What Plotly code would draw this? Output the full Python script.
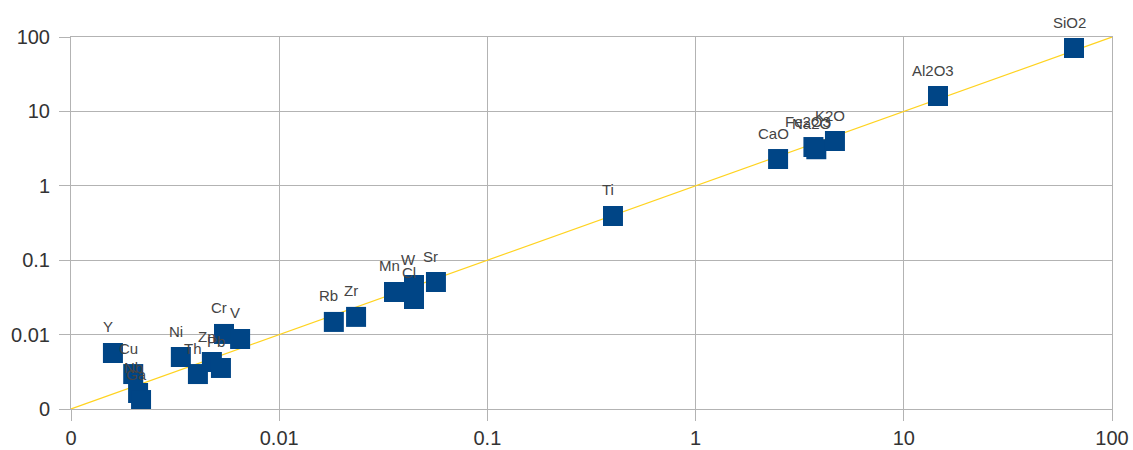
import math
import plotly.graph_objects as go

# Element / oxide concentrations: measured (x) vs reference (y)
elements = ["Y", "Cu", "Nb", "Ga", "Ni", "Th", "Zn", "Pb", "Cr", "V",
            "Rb", "Zr", "Mn", "W", "Cl", "Sr", "Ti", "CaO", "Fe2O3", "Na2O",
            "K2O", "Al2O3", "SiO2"]
x_vals = [0.00159, 0.00199, 0.00210, 0.00217, 0.00337, 0.00407, 0.00475, 0.00525, 0.00543, 0.00649,
          0.0183, 0.0234, 0.0356, 0.0444, 0.0444, 0.0566, 0.401, 2.49, 3.68, 3.80,
          4.67, 14.6, 65.7]
y_vals = [0.00566, 0.00295, 0.00164, 0.00132, 0.0050, 0.00295, 0.00428, 0.00356, 0.0102, 0.00873,
          0.0148, 0.0173, 0.0374, 0.0464, 0.0301, 0.0509, 0.393, 2.29, 3.32, 3.10,
          4.00, 16.1, 71.1]

# 1:1 reference line
line_x = [0.001, 100]
line_y = [0.001, 100]

tick_vals = [0.001, 0.01, 0.1, 1, 10, 100]
tick_text = ["0", "0.01", "0.1", "1", "10", "100"]

FONT = "Liberation Sans, Arial, sans-serif"

fig = go.Figure()
fig.add_trace(go.Scatter(x=line_x, y=line_y, mode="lines",
                         line=dict(color="#ffd320", width=1.2),
                         hoverinfo="skip", showlegend=False))
fig.add_trace(go.Scatter(x=x_vals, y=y_vals, mode="markers",
                         marker=dict(symbol="square", size=20, color="#004586",
                                     line=dict(width=0)),
                         text=elements, showlegend=False))

# Data labels above each marker (annotation coords on log axes are log10 values)
for name, xv, yv in zip(elements, x_vals, y_vals):
    fig.add_annotation(x=math.log10(xv), y=math.log10(yv), xref="x", yref="y", text=name,
                       showarrow=False, xshift=-5, yshift=26,
                       font=dict(family=FONT, size=15, color="#444444"))

axis_common = dict(type="log", range=[-3, 2], tickvals=tick_vals, ticktext=tick_text,
                   showgrid=True, gridcolor="#b3b3b3", gridwidth=1,
                   showline=True, linecolor="#b3b3b3", linewidth=1, mirror=True,
                   ticks="outside", ticklen=11, tickcolor="#b3b3b3",
                   tickfont=dict(family=FONT, size=20, color="#333333"),
                   zeroline=False, automargin=False)

fig.update_layout(
    width=1133, height=450,
    margin=dict(l=71, r=21, t=37, b=41),
    plot_bgcolor="white", paper_bgcolor="white",
    xaxis=axis_common,
    yaxis=axis_common,
)
fig.update_yaxes(ticklabelstandoff=5)
fig.update_xaxes(ticklabelstandoff=0)

fig.write_html("out.html")
